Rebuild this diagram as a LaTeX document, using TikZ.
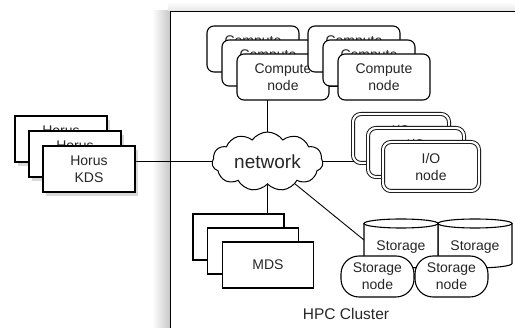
\documentclass[tikz,border=0pt]{standalone}
\usepackage{fontspec}
\setmainfont{Liberation Sans}
\usetikzlibrary{shapes.symbols,shadows,calc}
\begin{document}
\begin{tikzpicture}[x=1pt,y=-1pt,
  txt/.style={font=\fontsize{14}{17}\selectfont, text=black!85, align=center},
  box/.style={txt, draw, line width=1.1pt, fill=white, minimum width=92pt, minimum height=46pt, inner sep=0pt},
  horus/.style={box, drop shadow={shadow xshift=3pt, shadow yshift=-4pt, opacity=0.3}},
  comp/.style={box, rounded corners=7pt},
  ionode/.style={box, rounded corners=8pt, minimum width=96pt, minimum height=49pt, double=white, double distance=2.2pt, line width=0.9pt},
  mds/.style={box, minimum width=91pt},
  snode/.style={box, rounded corners=18pt, minimum width=73pt, minimum height=41pt},
  cyl/.style={draw, line width=1.1pt, fill=white},
  conn/.style={draw, line width=0.9pt}
]
\useasboundingbox (0,0) rectangle (515,328);
\clip (0,0) rectangle (515,328);

% cluster container with soft shadow
\shade[left color=white, right color=black!22] (152,11) rectangle (170,340);
\shade[top color=white, bottom color=black!10] (168,2) rectangle (520,11);
\node[draw, line width=1.3pt, fill=white, minimum width=360pt, minimum height=330pt, anchor=north west, inner sep=0pt] (cluster) at (170,11) {};
\node[txt, font=\fontsize{15.5}{18}\selectfont] (hpc) at (346,314) {HPC Cluster};

% network cloud
\node[cloud, draw, fill=white, line width=1pt, cloud puffs=11, cloud puff arc=110, aspect=2,
      minimum width=111pt, minimum height=57pt, inner sep=0pt,
      font=\fontsize{19}{22}\selectfont, text=black!85] (net) at (267.5,161.5) {network};

% positions of nodes (defined early for connectors)
\coordinate (h3c) at (89,169);
\coordinate (c3c) at (283,77);
\coordinate (r3c) at (384,77);
\coordinate (i3c) at (431,166.5);
\coordinate (m1c) at (238.5,237);

% connectors (drawn under the boxes)
\draw[conn] (net.west) -- (net.west -| 135,0);
\draw[conn] (net.north) -- (net.north |- 0,100);
\draw[conn] (net.east) -- (net.east -| 383,0);
\draw[conn] (net.south) -- (net.south |- 0,214);
\draw[conn] ([yshift=-9pt]c3c -| 328,0) -- ([yshift=-9pt]r3c -| 338,0);
\coordinate (stw) at (364,240);
\draw[conn] (net) -- (stw);

% Horus KDS
\node[horus] (h1) at (61,139) {Horus\\KDS};
\node[horus] (h2) at (75,154) {Horus\\KDS};
\node[horus] (h3) at (h3c) {Horus\\KDS};

% Compute nodes
\node[comp] (c1) at (253,49) {Compute\\node};
\node[comp] (c2) at (268,63) {Compute\\node};
\node[comp] (c3) at (c3c) {Compute\\node};
\node[comp] (r1) at (354,49) {Compute\\node};
\node[comp] (r2) at (369,63) {Compute\\node};
\node[comp] (r3) at (r3c) {Compute\\node};

% I/O nodes
\node[ionode] (i1) at (401,138.5) {I/O\\node};
\node[ionode] (i2) at (416,152.5) {I/O\\node};
\node[ionode] (i3) at (i3c) {I/O\\node};

% MDS
\node[mds] (m1) at (m1c) {MDS};
\node[mds] (m2) at (253,251) {MDS};
\node[mds] (m3) at (268,265) {MDS};

% Storage cylinders (right first)
\path[cyl] (438,223.5) -- (438,263.5) arc[start angle=180, end angle=0, x radius=37, y radius=4.5] -- (512,223.5);
\path[cyl] (475,223.5) ellipse[x radius=37, y radius=4.5];
\path[cyl] (364,223.5) -- (364,263.5) arc[start angle=180, end angle=0, x radius=37, y radius=4.5] -- (438,223.5);
\path[cyl] (401,223.5) ellipse[x radius=37, y radius=4.5];
\node[txt] (st1) at (401,247) {Storage};
\node[txt] (st2) at (475,247) {Storage};

% Storage nodes
\node[snode] (sn1) at (377.5,276.5) {Storage\\node};
\node[snode] (sn2) at (451.5,276.5) {Storage\\node};
\end{tikzpicture}
\end{document}
